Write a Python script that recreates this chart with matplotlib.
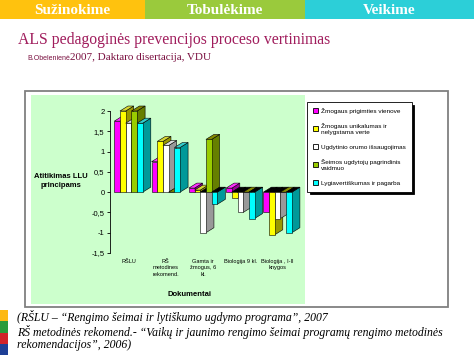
import numpy as np
import matplotlib.pyplot as plt
from matplotlib.patches import Rectangle, Polygon, Patch

# duomenys
categories = ['RŠLU', 'RŠ\nmetodines\nrekomend.', 'Gamta ir\nžmogus, 6\nkl.',
              'Biologija 9 kl.', 'Biologija , I-II\nknygos']
series = ['Žmogaus prigimties vienove',
          'Žmogaus unikalumas ir\nnelygstama verte',
          'Ugdytinio orumo išsaugojimas',
          'Šeimos ugdytojų pagrindinis\nvaidmuo',
          'Lygiavertiškumas ir pagarba']
vienove = [1.75, 0.75, 0.1, 0.1, -0.5]
unikalumas = [2.0, 1.25, 0.05, -0.15, -1.05]
orumas = [1.7, 1.15, -1.0, -0.5, -0.65]
seimos = [2.0, 0.0, 1.3, 0.0, 0.0]
lygiavertiskumas = [1.7, 1.1, -0.3, -0.65, -1.0]
values = [vienove, unikalumas, orumas, seimos, lygiavertiskumas]
yticks = [-1.5, -1, -0.5, 0, 0.5, 1, 1.5, 2]

front_c = ['#ff00ff', '#ffff00', '#ffffff', '#99cc00', '#00ffff']
side_c = ['#990099', '#999900', '#999999', '#667f00', '#009999']
top_c = ['#ff33ff', '#d6d633', '#dddddd', '#858a00', '#33cccc']

W = 0.153   # stulpelio plotis
DX = 0.215  # 3d gylis
DY = 0.123

sans = 'Liberation Sans'
serif = 'Liberation Serif'

fig = plt.figure(figsize=(4.74, 3.55), dpi=100)
H = 355.0
Wpx = 474.0

def fx(px):
    return px / Wpx

def fy(py):
    return 1 - py / H

def box(x0, y0, x1, y1, **kw):
    # staciakampis figuros koordinatemis (pikseliais)
    fig.add_artist(Rectangle((fx(x0), fy(y1)), fx(x1 - x0), (y1 - y0) / H,
                             transform=fig.transFigure, zorder=-5, **kw))

# virsutine juosta
band = [(0, 145, '#ffc20e', 'Sužinokime'), (145, 305, '#9aca3c', 'Tobulėkime'),
        (305, 474, '#2ccfd8', 'Veikime')]
for x0, x1, c, t in band:
    box(x0, 0, x1, 19, facecolor=c, edgecolor='none')
    fig.text(fx((x0 + x1) / 2), fy(10), t, ha='center', va='center', color='white',
             fontsize=11, fontweight='bold', family=serif)

fig.text(fx(18), fy(40), 'ALS pedagoginės prevencijos proceso vertinimas', ha='left', va='center',
         color='#a01c5c', fontsize=11.3, family=serif)
t1 = fig.text(fx(27), fy(58), 'B.Obelenienė', ha='left', va='center', color='#7a1040',
              fontsize=5.0, family=sans)
fig.add_artist(plt.Annotation('2007, Daktaro disertacija, VDU', xy=(1, 0.5), xycoords=t1,
                              va='center', ha='left', color='#7a1040', fontsize=8,
                              family=serif))

# diagramos remas
box(25, 91, 448, 307, facecolor='white', edgecolor='#808080', linewidth=1.3)
box(31, 95, 305, 304, facecolor='#ccffcc', edgecolor='none')

ax = fig.add_axes([fx(110), fy(253), fx(190), 142 / H])
ax.set_facecolor('none')
ax.set_xlim(-0.497, 4.6)
ax.set_ylim(-1.5, 2)

x = np.arange(len(categories))
for k, vals in enumerate(values):
    x0s = x - 2.5 * W + k * W
    for x0, v in zip(x0s, vals):
        x1 = x0 + W
        side = Polygon([(x1, 0), (x1, v), (x1 + DX, v + DY), (x1 + DX, DY)], closed=True,
                       facecolor=side_c[k], edgecolor='black', linewidth=0.4,
                       zorder=10 + 3 * k, clip_on=False)
        ax.add_patch(side)
        t = max(v, 0)
        tc = top_c[k] if v >= 0 else 'black'
        top = Polygon([(x0, t), (x1, t), (x1 + DX, t + DY), (x0 + DX, t + DY)], closed=True,
                      facecolor=tc, edgecolor='black', linewidth=0.4,
                      zorder=11 + 3 * k, clip_on=False)
        ax.add_patch(top)
    ax.bar(x0s, vals, width=W, align='edge', color=front_c[k], edgecolor='black',
           linewidth=0.4, zorder=12 + 3 * k, clip_on=False)

for s in ['top', 'right', 'bottom']:
    ax.spines[s].set_visible(False)
ax.spines['left'].set_linewidth(0.6)
ax.set_yticks(yticks)
ax.set_yticklabels([('%g' % v).replace('.', ',') for v in yticks], fontsize=5.5, family=sans)
ax.tick_params(axis='y', length=2.5, width=0.6, pad=1.5)
ax.set_xticks(x)
ax.set_xticklabels(categories, fontsize=4.1, family=sans, linespacing=1.45)
ax.tick_params(axis='x', length=0, pad=4)

fig.text(fx(61), fy(181), 'Atitikimas LLU\nprincipams', ha='center', va='center', fontsize=5.5,
         fontweight='bold', family=sans, linespacing=1.3)
fig.text(fx(190), fy(294), 'Dokumentai', ha='center', va='center', fontsize=5.5,
         fontweight='bold', family=sans)

handles = [Patch(facecolor=front_c[k], edgecolor='black', linewidth=0.6) for k in range(5)]
leg = ax.legend(handles, series, loc='upper left', bbox_to_anchor=(fx(307), fy(102)),
                bbox_transform=fig.transFigure, prop={'family': sans, 'size': 4.6},
                frameon=True, fancybox=False, shadow={'color': 'black', 'alpha': 1},
                edgecolor='black', handlelength=0.8, handleheight=0.8, handletextpad=0.5,
                labelspacing=1.45, borderpad=0.9, borderaxespad=0)
leg.get_frame().set_linewidth(0.6)
leg.set_zorder(50)

# apacios tekstas
flag = ['#fdb913', '#2a9b3b', '#d2232a', '#1e3f96']
for i, c in enumerate(flag):
    box(0, 310 + 11.25 * i, 8, 310 + 11.25 * (i + 1), facecolor=c, edgecolor='none')
note = ('(RŠLU – “Rengimo šeimai ir lytiškumo ugdymo programa”, 2007\n'
        'RŠ metodinės rekomend.- “Vaikų ir jaunimo rengimo šeimai programų rengimo metodinės\n'
        'rekomendacijos”, 2006)')
fig.text(fx(17), fy(310), note, ha='left', va='top', fontsize=8.5, style='italic',
         family=serif, linespacing=1.05)

fig.savefig('out.png', dpi=100)
